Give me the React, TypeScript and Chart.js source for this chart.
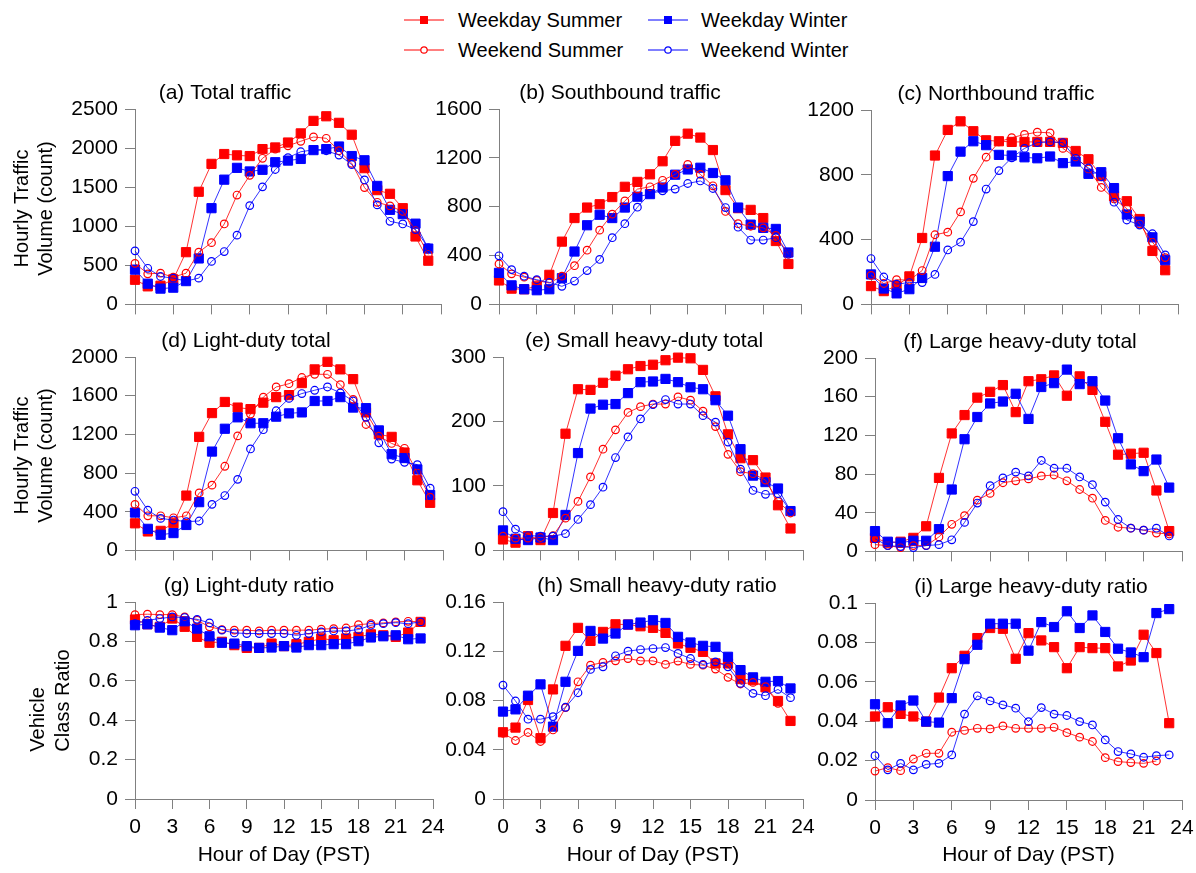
import React, { useEffect, useRef } from 'react';
import { Chart, registerables } from 'chart.js';

Chart.register(...registerables);

// ---------------- DATA ----------------
const HOURS = [0, 1, 2, 3, 4, 5, 6, 7, 8, 9, 10, 11, 12, 13, 14, 15, 16, 17, 18, 19, 20, 21, 22, 23];
const HOUR_TICKS = [0, 3, 6, 9, 12, 15, 18, 21, 24];

const SERIES_LABELS = ['Weekday Summer', 'Weekday Winter', 'Weekend Summer', 'Weekend Winter'];

// (a) Total traffic
const A_WDS = [315, 231, 239, 320, 668, 1441, 1798, 1924, 1907, 1898, 1987, 2008, 2071, 2188, 2348, 2407, 2323, 2171, 1743, 1462, 1415, 1231, 869, 559];
const A_WDW = [445, 265, 202, 214, 298, 588, 1231, 1596, 1747, 1701, 1722, 1819, 1840, 1861, 1974, 1987, 2020, 1898, 1844, 1516, 1210, 1155, 1033, 714];
const A_WES = [525, 391, 399, 349, 399, 668, 790, 1029, 1399, 1651, 1869, 1987, 2029, 2087, 2142, 2125, 1966, 1806, 1495, 1306, 1260, 1189, 949, 640];
const A_WEW = [685, 462, 357, 336, 298, 336, 550, 676, 886, 1264, 1504, 1726, 1877, 1953, 1978, 1966, 1911, 1789, 1592, 1273, 1063, 1029, 958, 727];
const TICKS_A = [0, 500, 1000, 1500, 2000, 2500];

// (b) Southbound traffic
const B_WDS = [196, 129, 124, 148, 242, 514, 707, 793, 820, 879, 963, 1003, 1065, 1172, 1339, 1398, 1366, 1264, 936, 788, 774, 707, 519, 331];
const B_WDW = [258, 156, 124, 116, 124, 215, 433, 648, 734, 707, 793, 882, 903, 957, 1062, 1105, 1119, 1076, 1016, 793, 653, 627, 618, 425];
const B_WES = [331, 250, 223, 196, 175, 231, 317, 444, 608, 739, 847, 944, 963, 1016, 1065, 1146, 1065, 971, 761, 661, 640, 627, 565, 411];
const B_WEW = [398, 285, 231, 202, 180, 148, 191, 277, 368, 546, 661, 796, 909, 930, 944, 990, 1011, 949, 793, 632, 527, 527, 546, 411];
const TICKS_B = [0, 400, 800, 1200, 1600];

// (c) Northbound traffic
const C_WDS = [113, 82, 113, 173, 410, 919, 1077, 1130, 1069, 1013, 1007, 1003, 1003, 1003, 1003, 997, 947, 896, 792, 667, 637, 527, 330, 211];
const C_WDW = [185, 98, 68, 94, 163, 356, 792, 943, 1007, 983, 923, 919, 908, 902, 913, 872, 882, 806, 816, 718, 555, 511, 414, 273];
const C_WES = [179, 129, 153, 149, 209, 430, 446, 571, 778, 909, 1003, 1029, 1049, 1063, 1059, 963, 909, 836, 722, 651, 591, 496, 384, 289];
const C_WEW = [283, 169, 125, 135, 135, 185, 336, 384, 511, 712, 826, 905, 963, 999, 1003, 999, 902, 842, 788, 631, 521, 490, 436, 306];
const TICKS_C = [0, 400, 800, 1200];

// (d) Light-duty total
const D_WDS = [280, 196, 202, 280, 567, 1174, 1420, 1535, 1477, 1461, 1528, 1585, 1606, 1730, 1872, 1950, 1872, 1771, 1427, 1201, 1174, 1012, 725, 492];
const D_WDW = [391, 223, 162, 179, 263, 499, 1022, 1258, 1376, 1315, 1315, 1383, 1417, 1427, 1545, 1545, 1585, 1477, 1471, 1241, 995, 955, 837, 573];
const D_WES = [476, 358, 358, 337, 358, 594, 675, 870, 1184, 1410, 1585, 1690, 1724, 1788, 1821, 1821, 1714, 1562, 1302, 1181, 1106, 1056, 803, 550];
const D_WEW = [611, 415, 331, 314, 297, 304, 476, 567, 735, 1049, 1248, 1444, 1572, 1622, 1656, 1690, 1629, 1545, 1376, 1113, 944, 911, 887, 644];
const TICKS_D = [0, 400, 800, 1200, 1600, 2000];

// (e) Small heavy-duty total
const E_WDS = [17, 12, 22, 16, 58, 181, 250, 249, 260, 271, 281, 286, 288, 295, 299, 298, 280, 239, 180, 143, 140, 113, 70, 34];
const E_WDW = [31, 18, 16, 20, 16, 55, 151, 220, 226, 227, 244, 261, 262, 266, 261, 253, 250, 233, 209, 157, 116, 106, 96, 61];
const E_WES = [22, 19, 19, 20, 23, 50, 76, 114, 157, 187, 214, 223, 227, 227, 238, 233, 216, 192, 149, 122, 119, 109, 76, 58];
const E_WEW = [60, 33, 23, 22, 22, 26, 48, 71, 98, 144, 176, 204, 226, 234, 227, 227, 209, 199, 168, 126, 93, 87, 88, 61];
const TICKS_E = [0, 100, 200, 300];

// (f) Large heavy-duty total
const F_WDS = [14, 9, 10, 14, 26, 76, 122, 141, 159, 165, 172, 144, 176, 178, 182, 161, 181, 167, 134, 100, 101, 102, 63, 21];
const F_WDW = [21, 10, 9, 11, 11, 23, 64, 116, 139, 153, 155, 163, 137, 170, 174, 188, 173, 176, 156, 117, 90, 83, 95, 66];
const F_WES = [7, 6, 4, 6, 6, 15, 28, 37, 53, 60, 71, 73, 75, 78, 79, 73, 64, 55, 32, 25, 24, 22, 19, 18];
const F_WEW = [13, 6, 5, 4, 6, 7, 12, 30, 50, 68, 76, 82, 78, 94, 86, 86, 77, 69, 51, 33, 24, 22, 24, 16];
const TICKS_F = [0, 40, 80, 120, 160, 200];

// (g) Light-duty ratio
const G_WDS = [0.911, 0.887, 0.874, 0.916, 0.874, 0.823, 0.793, 0.798, 0.781, 0.767, 0.767, 0.789, 0.776, 0.786, 0.798, 0.815, 0.806, 0.815, 0.823, 0.836, 0.831, 0.823, 0.845, 0.899];
const G_WDW = [0.882, 0.887, 0.87, 0.857, 0.902, 0.865, 0.826, 0.793, 0.789, 0.776, 0.767, 0.769, 0.776, 0.769, 0.781, 0.781, 0.786, 0.786, 0.801, 0.82, 0.826, 0.831, 0.811, 0.815];
const G_WES = [0.936, 0.938, 0.936, 0.936, 0.924, 0.907, 0.874, 0.86, 0.857, 0.857, 0.853, 0.857, 0.857, 0.857, 0.857, 0.862, 0.865, 0.868, 0.885, 0.89, 0.894, 0.899, 0.902, 0.899];
const G_WEW = [0.89, 0.907, 0.916, 0.924, 0.921, 0.912, 0.894, 0.857, 0.843, 0.84, 0.84, 0.84, 0.84, 0.831, 0.84, 0.848, 0.853, 0.853, 0.86, 0.882, 0.89, 0.895, 0.89, 0.899];
const TICKS_G = [0, 0.2, 0.4, 0.6, 0.8, 1];

// (h) Small heavy-duty ratio
const H_WDS = [0.0542, 0.058, 0.0804, 0.0494, 0.089, 0.1244, 0.139, 0.1284, 0.1357, 0.1419, 0.1417, 0.1403, 0.139, 0.1349, 0.1263, 0.1228, 0.1195, 0.1101, 0.1101, 0.0974, 0.0966, 0.0907, 0.0796, 0.0634];
const H_WDW = [0.071, 0.0728, 0.0839, 0.0931, 0.0588, 0.0952, 0.1203, 0.1365, 0.1303, 0.1344, 0.1417, 0.1433, 0.1452, 0.143, 0.1317, 0.1271, 0.1244, 0.1236, 0.1155, 0.1047, 0.0988, 0.0952, 0.0958, 0.0898];
const H_WES = [0.0534, 0.0475, 0.054, 0.0467, 0.0561, 0.0742, 0.0952, 0.1087, 0.1109, 0.1122, 0.1141, 0.1122, 0.1122, 0.1093, 0.112, 0.1093, 0.1087, 0.1055, 0.0988, 0.0934, 0.0947, 0.0912, 0.0777, null];
const H_WEW = [0.0925, 0.0796, 0.0648, 0.0648, 0.0669, 0.0745, 0.0863, 0.1052, 0.1074, 0.1163, 0.1201, 0.1214, 0.1222, 0.123, 0.1182, 0.1141, 0.1093, 0.1114, 0.1074, 0.0939, 0.0858, 0.0839, 0.089, 0.0823];
const TICKS_H = [0, 0.04, 0.08, 0.12, 0.16];

// (i) Large heavy-duty ratio
const I_WDS = [0.0424, 0.0471, 0.0437, 0.0424, 0.0398, 0.052, 0.0669, 0.0732, 0.0822, 0.0873, 0.0869, 0.0717, 0.0847, 0.081, 0.0776, 0.0669, 0.0776, 0.0771, 0.0771, 0.0678, 0.0708, 0.0839, 0.0746, 0.039];
const I_WDW = [0.0486, 0.039, 0.048, 0.0505, 0.0398, 0.0393, 0.0517, 0.0715, 0.0788, 0.0895, 0.0895, 0.0895, 0.0758, 0.0903, 0.0878, 0.0958, 0.0873, 0.0937, 0.0853, 0.0768, 0.0749, 0.0725, 0.0949, 0.0969];
const I_WES = [0.0147, 0.0164, 0.0149, 0.0208, 0.0237, 0.0237, 0.0344, 0.0353, 0.0364, 0.0361, 0.0376, 0.0364, 0.0364, 0.0364, 0.0369, 0.0342, 0.0319, 0.0297, 0.0215, 0.0195, 0.019, 0.0186, 0.0198, null];
const I_WEW = [0.0225, 0.0153, 0.0186, 0.0153, 0.0181, 0.0186, 0.0229, 0.0436, 0.0529, 0.0503, 0.0483, 0.0466, 0.0398, 0.0469, 0.0436, 0.0429, 0.0398, 0.0381, 0.0305, 0.0246, 0.0234, 0.0217, 0.0225, 0.0229];
const TICKS_I = [0, 0.02, 0.04, 0.06, 0.08, 0.1];

const PANEL_TITLES = [
  '(a) Total traffic', '(b) Southbound traffic', '(c) Northbound traffic',
  '(d) Light-duty total', '(e) Small heavy-duty total', '(f) Large heavy-duty total',
  '(g) Light-duty ratio', '(h) Small heavy-duty ratio', '(i) Large heavy-duty ratio',
];
const PANEL_SERIES = [
  [A_WDS, A_WDW, A_WES, A_WEW], [B_WDS, B_WDW, B_WES, B_WEW], [C_WDS, C_WDW, C_WES, C_WEW],
  [D_WDS, D_WDW, D_WES, D_WEW], [E_WDS, E_WDW, E_WES, E_WEW], [F_WDS, F_WDW, F_WES, F_WEW],
  [G_WDS, G_WDW, G_WES, G_WEW], [H_WDS, H_WDW, H_WES, H_WEW], [I_WDS, I_WDW, I_WES, I_WEW],
];
const PANEL_TICKS = [TICKS_A, TICKS_B, TICKS_C, TICKS_D, TICKS_E, TICKS_F, TICKS_G, TICKS_H, TICKS_I];

const Y_TITLE_COUNT = ['Hourly Traffic', 'Volume (count)'];
const Y_TITLE_RATIO = ['Vehicle', 'Class Ratio'];
const X_TITLE = 'Hour of Day (PST)';

// ---------------- LAYOUT / STYLE ----------------
const FONT = '"Liberation Sans", Arial, Helvetica, sans-serif';
const AXIS = '#808080';
const TXT = 21;

const PLOT_BOXES = [
  { left: 135, right: 441, top: 109, bottom: 308, titleX: 225 },
  { left: 499, right: 801, top: 109, bottom: 308, titleX: 620 },
  { left: 871, right: 1178, top: 110, bottom: 308, titleX: 996 },
  { left: 135, right: 443, top: 357, bottom: 554, titleX: 246 },
  { left: 503, right: 803, top: 357, bottom: 554, titleX: 644 },
  { left: 875, right: 1182, top: 358, bottom: 555, titleX: 1020 },
  { left: 135, right: 433, top: 602, bottom: 799, titleX: 249 },
  { left: 503, right: 803, top: 602, bottom: 799, titleX: 657 },
  { left: 875, right: 1182, top: 603, bottom: 800, titleX: 1031 },
];

const SERIES_STYLE = [
  { color: '#ff0000', line: 'rgba(255,0,0,0.8)', shape: 'rect', filled: true, order: 3 },
  { color: '#0000ff', line: 'rgba(0,0,255,0.8)', shape: 'rect', filled: true, order: 2 },
  { color: '#ff0000', line: 'rgba(255,0,0,0.8)', shape: 'circle', filled: false, order: 1 },
  { color: '#0000ff', line: 'rgba(0,0,255,0.8)', shape: 'circle', filled: false, order: 0 },
];

const panelTextPlugin = {
  id: 'panelText',
  afterDraw(chart: any, _args: any, opts: any) {
    const { ctx } = chart;
    ctx.save();
    ctx.fillStyle = '#000';
    ctx.font = `${TXT}px ${FONT}`;
    ctx.textAlign = 'center';
    ctx.textBaseline = 'middle';
    ctx.fillText(opts.title, opts.titleX, opts.titleY);
    if (opts.yTitle) {
      const { lines, xs, cy, align } = opts.yTitle;
      ctx.font = `20px ${FONT}`;
      const maxW = Math.max(...lines.map((l: string) => ctx.measureText(l).width));
      lines.forEach((l: string, i: number) => {
        ctx.save();
        ctx.translate(xs[i], cy);
        ctx.rotate(-Math.PI / 2);
        if (align === 'start') {
          ctx.textAlign = 'left';
          ctx.fillText(l, -maxW / 2, 0);
        } else {
          ctx.textAlign = 'center';
          ctx.fillText(l, 0, 0);
        }
        ctx.restore();
      });
    }
    ctx.restore();
  },
};

function Panel({ index }: { index: number }) {
  const ref = useRef<HTMLCanvasElement>(null);
  const box = PLOT_BOXES[index];
  const row = Math.floor(index / 3);
  const col = index % 3;
  const padL = col === 0 ? box.left : 70;
  const padT = 45;
  const padR = 22;
  const padB = row === 2 ? 873 - box.bottom : 16;
  const cLeft = box.left - padL;
  const cTop = box.top - padT;
  const w = padL + (box.right - box.left) + padR;
  const h = padT + (box.bottom - box.top) + padB;
  const showX = row === 2;

  useEffect(() => {
    const series = PANEL_SERIES[index];
    const ticks = PANEL_TICKS[index];
    const datasets = series.map((vals, si) => {
      const st = SERIES_STYLE[si];
      return {
        label: SERIES_LABELS[si],
        data: HOURS.map((hr, i) => ({ x: hr, y: vals[i] })),
        borderColor: st.line,
        borderWidth: 1,
        backgroundColor: st.filled ? st.color : 'rgba(0,0,0,0)',
        pointStyle: st.shape,
        pointRadius: st.filled ? 6.5 : 3.8,
        pointHoverRadius: st.filled ? 6.5 : 3.8,
        pointBorderWidth: st.filled ? 1 : 1.2,
        pointBorderColor: st.color,
        pointBackgroundColor: st.filled ? st.color : 'rgba(0,0,0,0)',
        tension: 0,
        fill: false,
        clip: false,
        spanGaps: false,
        order: st.order,
      };
    });
    const yTitle = col === 0
      ? {
          lines: row === 2 ? Y_TITLE_RATIO : Y_TITLE_COUNT,
          xs: row === 2 ? [38 - cLeft, 63 - cLeft] : [22 - cLeft, 46 - cLeft],
          cy: (box.top + box.bottom) / 2 - cTop,
          align: row === 2 ? 'start' : 'center',
        }
      : null;
    const chart = new Chart(ref.current as HTMLCanvasElement, {
      type: 'line',
      data: { datasets } as any,
      plugins: [panelTextPlugin],
      options: {
        animation: false,
        responsive: false,
        devicePixelRatio: 1,
        events: [],
        layout: { padding: { left: 0, top: padT, right: padR, bottom: 0 } },
        scales: {
          x: {
            type: 'linear',
            min: 0,
            max: 24,
            afterBuildTicks: (s: any) => { s.ticks = HOUR_TICKS.map((v) => ({ value: v })); },
            afterFit: (s: any) => { s.height = padB; },
            ticks: {
              display: showX,
              autoSkip: false,
              maxRotation: 0,
              padding: 6,
              color: '#000',
              font: { family: FONT, size: TXT },
              callback: (v: any) => String(v),
            },
            grid: { drawOnChartArea: false, drawTicks: true, tickLength: 10, tickColor: AXIS, color: AXIS },
            border: { display: true, color: AXIS, width: 1 },
            title: {
              display: showX,
              text: X_TITLE,
              color: '#000',
              font: { family: FONT, size: TXT },
              padding: { top: 0, bottom: 5 },
            },
          },
          y: {
            type: 'linear',
            min: 0,
            max: ticks[ticks.length - 1],
            afterBuildTicks: (s: any) => { s.ticks = ticks.map((v) => ({ value: v })); },
            afterFit: (s: any) => { s.width = padL; },
            ticks: {
              padding: 7,
              color: '#000',
              font: { family: FONT, size: TXT },
              callback: (v: any) => String(v),
            },
            grid: { drawOnChartArea: false, drawTicks: true, tickLength: 10, tickColor: AXIS, color: AXIS },
            border: { display: true, color: AXIS, width: 1 },
          },
        },
        plugins: {
          legend: { display: false },
          tooltip: { enabled: false },
          panelText: {
            title: PANEL_TITLES[index],
            titleX: box.titleX - cLeft,
            titleY: box.top - 16 - cTop,
            yTitle,
          },
        } as any,
      } as any,
    });
    return () => chart.destroy();
  }, []);

  return (
    <canvas
      ref={ref}
      width={w}
      height={h}
      style={{ position: 'absolute', left: cLeft, top: cTop, width: w, height: h }}
    />
  );
}

const LEGEND_POS = [
  { iconX: 404, textX: 458, cy: 20 },
  { iconX: 648, textX: 701, cy: 20 },
  { iconX: 404, textX: 458, cy: 50 },
  { iconX: 648, textX: 701, cy: 50 },
];

function LegendItem({ si }: { si: number }) {
  const st = SERIES_STYLE[si];
  const pos = LEGEND_POS[si];
  return (
    <>
      <svg width={40} height={14} style={{ position: 'absolute', left: pos.iconX, top: pos.cy - 7 }}>
        <line x1={0} y1={7} x2={40} y2={7} stroke={st.color} strokeWidth={1} />
        {st.filled ? (
          <rect x={16} y={3} width={8} height={8} fill={st.color} />
        ) : (
          <circle cx={20} cy={7} r={3.2} fill="#fff" stroke={st.color} strokeWidth={1.2} />
        )}
      </svg>
      <div
        style={{
          position: 'absolute',
          left: pos.textX,
          top: pos.cy - 12,
          height: 24,
          lineHeight: '24px',
          fontSize: 20,
          fontFamily: FONT,
          color: '#000',
          whiteSpace: 'nowrap',
        }}
      >
        {SERIES_LABELS[si]}
      </div>
    </>
  );
}

export default function App() {
  return (
    <div
      style={{
        position: 'absolute',
        left: 0,
        top: 0,
        width: 1196,
        height: 873,
        background: '#fff',
        overflow: 'hidden',
      }}
    >
      {[0, 1, 2, 3].map((si) => (
        <LegendItem key={si} si={si} />
      ))}
      {PLOT_BOXES.map((_, i) => (
        <Panel key={i} index={i} />
      ))}
    </div>
  );
}
